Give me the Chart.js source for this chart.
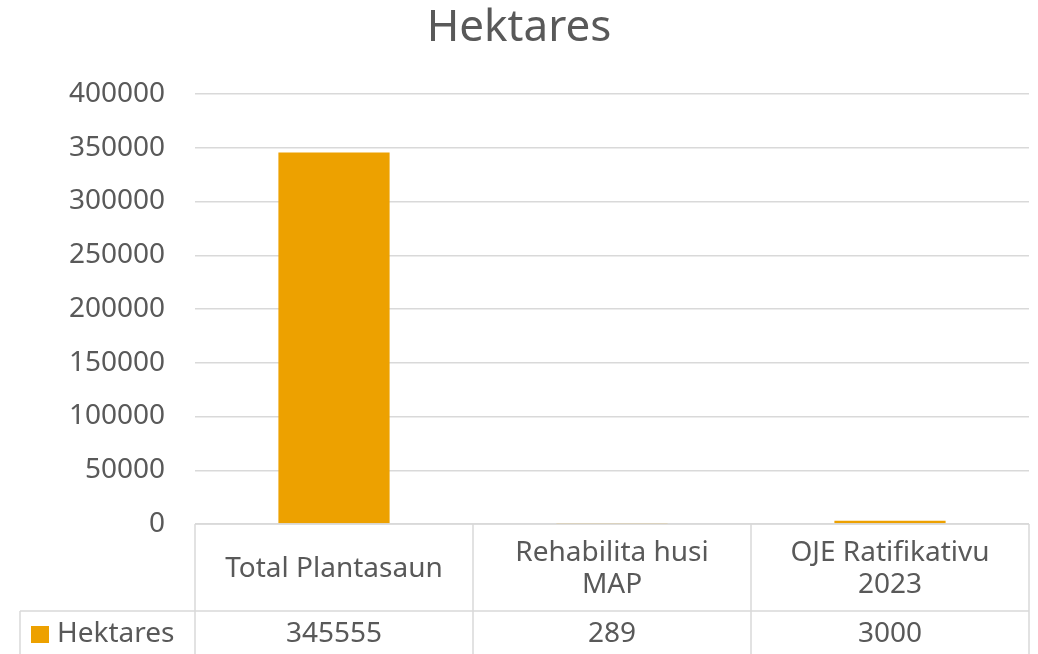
<!DOCTYPE html>
<html>
<head>
<meta charset="utf-8">
<script src="https://cdn.jsdelivr.net/npm/chart.js@4.4.1/dist/chart.umd.min.js"></script>
<style>
  html, body { margin: 0; padding: 0; background: #fff; }
  #wrap { width: 1038px; height: 654px; position: relative; }
</style>
</head>
<body>
<div id="wrap"><canvas id="chart"></canvas></div>
<script>
// chart data
const chartTitle = "Hektares";
const seriesName = "Hektares";
const categories = [["Total Plantasaun"], ["Rehabilita husi", "MAP"], ["OJE Ratifikativu", "2023"]];
const values = [345555, 289, 3000];

const barColor = "#EDA100";
const textColor = "#595959";
const lineColor = "#D9D9D9";
const fontFamily = "'Noto Sans', 'Liberation Sans', sans-serif";

// draws title + the data table under the plot
const tablePlugin = {
  id: "dataTable",
  afterDraw(chart) {
    const ctx = chart.ctx;
    const area = chart.chartArea;
    const xs = chart.scales.x;
    const n = categories.length;
    const headerBottom = 611;
    const rowBottom = 700;
    const leftEdge = 20;

    ctx.save();
    // title
    ctx.fillStyle = textColor;
    ctx.font = "44px " + fontFamily;
    ctx.textAlign = "center";
    ctx.textBaseline = "middle";
    ctx.fillText(chartTitle, 519, 28);

    // grid lines of table
    ctx.strokeStyle = lineColor;
    ctx.lineWidth = 1.5;
    ctx.beginPath();
    ctx.moveTo(area.left, area.bottom);
    ctx.lineTo(area.right, area.bottom);
    ctx.moveTo(leftEdge, headerBottom);
    ctx.lineTo(area.right, headerBottom);
    ctx.moveTo(leftEdge, headerBottom);
    ctx.lineTo(leftEdge, rowBottom);
    for (let i = 0; i <= n; i++) {
      let x;
      if (i === 0) x = area.left;
      else if (i === n) x = area.right;
      else x = (xs.getPixelForValue(i - 1) + xs.getPixelForValue(i)) / 2;
      ctx.moveTo(x, area.bottom);
      ctx.lineTo(x, rowBottom);
    }
    ctx.stroke();

    // category labels
    ctx.font = "28px " + fontFamily;
    ctx.fillStyle = textColor;
    const headerMid = (area.bottom + headerBottom) / 2 + 2;
    const lineH = 32;
    categories.forEach((lines, i) => {
      const cx = xs.getPixelForValue(i);
      const y0 = headerMid - (lines.length - 1) * lineH / 2;
      lines.forEach((t, j) => ctx.fillText(t, cx, y0 + j * lineH));
    });

    // values row
    const rowMid = 634;
    values.forEach((v, i) => {
      ctx.fillText(String(v), xs.getPixelForValue(i), rowMid);
    });

    // series legend key
    ctx.fillStyle = barColor;
    ctx.fillRect(31, 626, 18, 17);
    ctx.fillStyle = textColor;
    ctx.textAlign = "left";
    ctx.fillText(seriesName, 57, rowMid);
    ctx.restore();
  }
};

new Chart(document.getElementById("chart"), {
  type: "bar",
  data: {
    labels: categories,
    datasets: [{
      label: seriesName,
      data: values,
      backgroundColor: barColor,
      categoryPercentage: 1,
      barPercentage: 0.4
    }]
  },
  options: {
    responsive: true,
    maintainAspectRatio: false,
    animation: false,
    layout: { padding: { left: 0, right: 9, top: 94, bottom: 130 } },
    plugins: {
      legend: { display: false },
      title: { display: false },
      tooltip: { enabled: false }
    },
    scales: {
      x: { display: false },
      y: {
        min: 0,
        max: 400000,
        ticks: {
          stepSize: 50000,
          color: textColor,
          padding: 30,
          font: { size: 28, family: fontFamily },
          callback: v => String(v)
        },
        grid: { color: lineColor, lineWidth: 1.5, drawTicks: false },
        border: { display: false },
        afterFit: s => { s.width = 195; }
      }
    }
  },
  plugins: [tablePlugin]
});
</script>
</body>
</html>
